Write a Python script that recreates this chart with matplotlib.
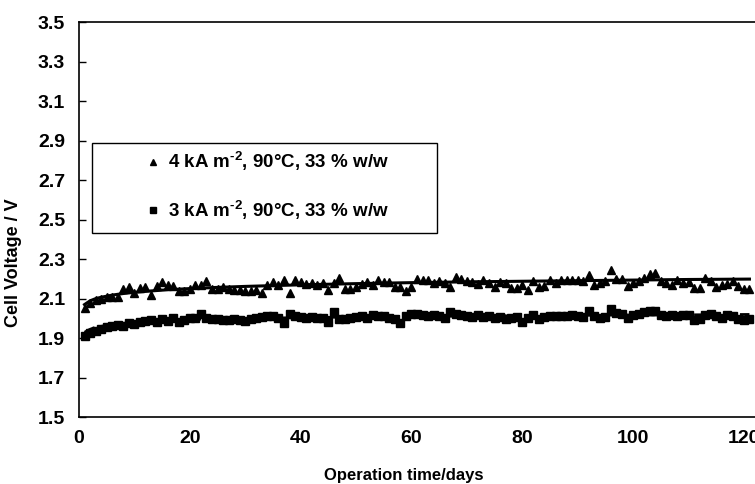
import numpy as np
import matplotlib
matplotlib.use('Agg')
import matplotlib.pyplot as plt
from matplotlib.patches import Rectangle

plt.rcParams['font.family'] = ['Liberation Sans', 'DejaVu Sans']
plt.rcParams['font.weight'] = 'bold'
plt.rcParams['mathtext.fontset'] = 'custom'
plt.rcParams['mathtext.rm'] = 'Liberation Sans:bold'
plt.rcParams['mathtext.bf'] = 'Liberation Sans:bold'
plt.rcParams['mathtext.default'] = 'rm'

# '#' operation days (one reading per day)
days = np.arange(1, 122)

# '#' cell voltage at 4 kA m-2
v_4ka = [2.055, 2.08, 2.095, 2.10, 2.11, 2.11, 2.11, 2.15, 2.16, 2.13,
         2.155, 2.16, 2.12, 2.165, 2.185, 2.17, 2.165, 2.14, 2.14, 2.15,
         2.17, 2.17, 2.19, 2.15, 2.15, 2.16, 2.15, 2.145, 2.145, 2.14,
         2.14, 2.145, 2.13, 2.17, 2.185, 2.17, 2.195, 2.13, 2.195, 2.185,
         2.175, 2.18, 2.17, 2.18, 2.145, 2.18, 2.205, 2.15, 2.15, 2.16,
         2.175, 2.185, 2.17, 2.195, 2.185, 2.185, 2.16, 2.16, 2.14, 2.16,
         2.20, 2.195, 2.195, 2.18, 2.19, 2.18, 2.16, 2.21, 2.20, 2.19,
         2.185, 2.175, 2.195, 2.18, 2.16, 2.185, 2.18, 2.155, 2.155, 2.17,
         2.145, 2.19, 2.16, 2.165, 2.195, 2.18, 2.195, 2.195, 2.195, 2.195,
         2.19, 2.22, 2.17, 2.18, 2.19, 2.245, 2.20, 2.20, 2.165, 2.18,
         2.19, 2.205, 2.225, 2.23, 2.19, 2.18, 2.17, 2.195, 2.18, 2.185,
         2.155, 2.155, 2.205, 2.19, 2.16, 2.17, 2.175, 2.19, 2.165, 2.15, 2.15]

# '#' cell voltage at 3 kA m-2
v_3ka = [1.91, 1.925, 1.935, 1.945, 1.955, 1.96, 1.965, 1.96, 1.975, 1.97,
         1.98, 1.985, 1.99, 1.98, 1.995, 1.985, 2.00, 1.98, 1.99, 2.00,
         2.00, 2.02, 2.00, 1.995, 1.995, 1.99, 1.99, 1.995, 1.99, 1.985,
         1.995, 2.00, 2.005, 2.01, 2.01, 2.00, 1.975, 2.02, 2.01, 2.005,
         2.00, 2.005, 2.00, 2.00, 1.98, 2.03, 1.995, 1.995, 2.00, 2.005,
         2.01, 2.00, 2.015, 2.01, 2.01, 2.00, 1.995, 1.975, 2.01, 2.02,
         2.02, 2.015, 2.01, 2.015, 2.01, 2.00, 2.03, 2.02, 2.015, 2.01,
         2.005, 2.015, 2.005, 2.01, 2.00, 2.005, 1.995, 2.00, 2.005, 1.98,
         2.00, 2.015, 1.995, 2.005, 2.01, 2.01, 2.01, 2.01, 2.015, 2.01,
         2.005, 2.035, 2.01, 2.00, 2.005, 2.05, 2.025, 2.02, 2.00, 2.015,
         2.02, 2.03, 2.04, 2.035, 2.015, 2.01, 2.015, 2.01, 2.015, 2.015,
         1.99, 1.995, 2.015, 2.02, 2.01, 2.00, 2.015, 2.01, 1.995, 1.99, 1.995]

# '#' trend lines
trend_days = [1, 2, 3, 4, 6, 8, 10, 13, 16, 20, 25, 30, 40, 50, 60, 70, 80, 90, 100, 110, 121]
trend_4ka = [2.070, 2.089, 2.100, 2.107, 2.118, 2.126, 2.132, 2.139, 2.145, 2.151, 2.157,
             2.162, 2.170, 2.176, 2.181, 2.185, 2.188, 2.191, 2.194, 2.197, 2.199]
trend_3ka = [1.930, 1.945, 1.955, 1.960, 1.968, 1.975, 1.980, 1.985, 1.990, 1.995, 1.998,
             2.000, 2.004, 2.007, 2.010, 2.012, 2.014, 2.016, 2.017, 2.018, 2.020]

labels = [r'4 kA m$^{\text{-2}}$, 90°C, 33 % w/w', r'3 kA m$^{\text{-2}}$, 90°C, 33 % w/w']
y_ticks = [1.5, 1.7, 1.9, 2.1, 2.3, 2.5, 2.7, 2.9, 3.1, 3.3, 3.5]
x_ticks = [0, 20, 40, 60, 80, 100, 120]

fig = plt.figure(figsize=(7.55, 4.84), dpi=100)
ax = fig.add_axes([0.1046, 0.138, 0.8954, 0.8165])

ax.plot(days, v_4ka, linestyle='none', marker='^', markersize=6, color='black',
        label=labels[0])
ax.plot(days, v_3ka, linestyle='none', marker='s', markersize=5.5, color='black',
        label=labels[1])
ax.plot(trend_days, trend_4ka, color='black', linewidth=2.2)
ax.plot(trend_days, trend_3ka, color='black', linewidth=2.0, linestyle=(0, (4, 1.5)))

ax.set_xlim(0, 122)
ax.set_ylim(1.5, 3.5)
ax.set_xticks(x_ticks)
ax.set_yticks(y_ticks)
ax.set_yticklabels(['%.1f' % t for t in y_ticks])
ax.tick_params(axis='y', direction='in', length=5, width=1, pad=10, labelsize=14)
ax.tick_params(axis='x', length=0, pad=9, labelsize=14)
ax.spines['right'].set_visible(False)
for s in ['left', 'bottom', 'top']:
    ax.spines[s].set_linewidth(1.2)

ax.set_ylabel('Cell Voltage / V', fontsize=13, fontweight='bold')
ax.yaxis.set_label_coords(-0.085, 0.392)
ax.set_xlabel('Operation time/days', fontsize=12, fontweight='bold')
ax.xaxis.set_label_coords(0.481, -0.128)

# '#' legend box
ax.add_patch(Rectangle((2.3, 2.432), 62.4, 0.455, fill=False, edgecolor='black',
                       linewidth=1.0, zorder=5))
leg = ax.legend(loc='center left', bbox_to_anchor=(0.083, 0.585), frameon=False,
                fontsize=13.5, handlelength=0.9, handletextpad=0.35, borderpad=0,
                labelspacing=1.35, markerscale=0.7)

fig.savefig('out.png', dpi=100)
